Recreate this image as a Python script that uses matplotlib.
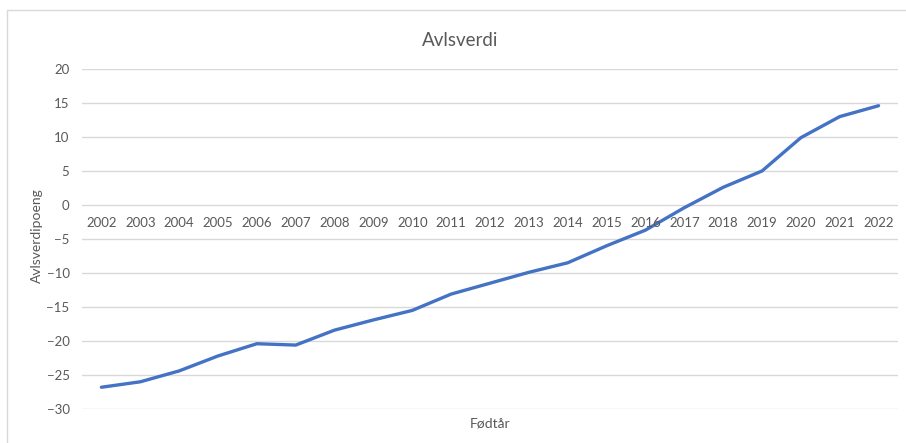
import matplotlib.pyplot as plt
from matplotlib.patches import Rectangle

years = [str(y) for y in range(2002, 2023)]
avlsverdi = [-26.8, -26.0, -24.4, -22.2, -20.4, -20.6, -18.4, -16.9, -15.5, -13.1,
             -11.5, -9.9, -8.5, -6.0, -3.7, -0.4, 2.6, 5.0, 9.9, 13.0, 14.6]
yticks = [20, 15, 10, 5, 0, -5, -10, -15, -20, -25, -30]

plt.rcParams['font.family'] = ['Lato', 'DejaVu Sans']
txt = '#595959'
grid = '#D9D9D9'

W, H = 906, 443
fig = plt.figure(figsize=(W / 100, H / 100), dpi=100)

# chart frame (cropped on the right and bottom)
fig.patches.append(Rectangle((7 / W, -0.1), 1.2, (H - 10) / H + 0.1,
                             transform=fig.transFigure, fill=False,
                             edgecolor=grid, linewidth=1))

ax = fig.add_axes([82 / W, (H - 409) / H, (898 - 82) / W, (409 - 69) / H])
x = list(range(len(years)))
ax.plot(x, avlsverdi, color='#4472C4', linewidth=2.4, solid_capstyle='round', zorder=3)

ax.set_xlim(-0.5, len(years) - 0.5)
ax.set_ylim(-30, 20)
ax.set_yticks(yticks)
ax.tick_params(axis='y', length=0, labelsize=9.5, labelcolor=txt, pad=9)
ax.grid(axis='y', color=grid, linewidth=1)
ax.set_axisbelow(True)
for s in ax.spines.values():
    s.set_visible(False)

# category labels sit just under the zero line
ax.set_xticks([])
for i, lab in enumerate(years):
    ax.annotate(lab, (i, 0), xytext=(0, -18), textcoords='offset pixels',
                ha='center', va='center', fontsize=9.5, color=txt)

fig.text(460 / W, (H - 40) / H, 'Avlsverdi', ha='center', va='center',
         fontsize=13.5, color=txt)
fig.text(37 / W, (H - 236) / H, 'Avlsverdipoeng', ha='center', va='center',
         rotation=90, fontsize=10, color=txt)
fig.text(490 / W, (H - 423) / H, 'Fødtår', ha='center', va='center',
         fontsize=10, color=txt)

fig.savefig('out.png', dpi=100, facecolor='white')
